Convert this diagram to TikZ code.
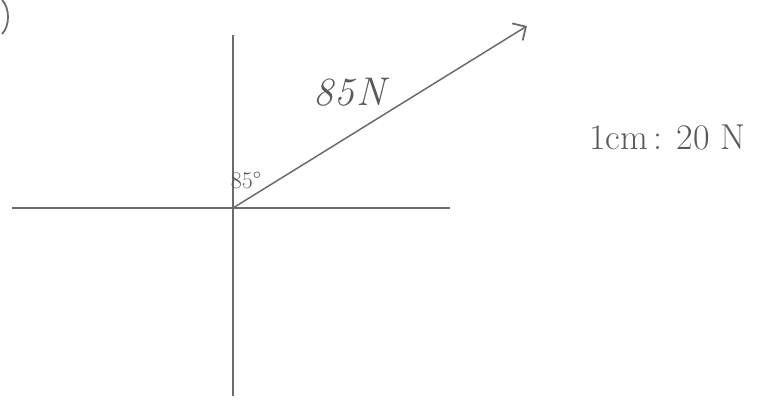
\documentclass[tikz,border=0pt]{standalone}
\usepackage{fontspec}
\setmainfont{Latin Modern Roman}
\usetikzlibrary{arrows.meta}
\definecolor{pencil}{gray}{0.42}
\definecolor{ink}{gray}{0.35}
\begin{document}
\begin{tikzpicture}[x=1pt,y=-1pt,
  axis/.style={draw=pencil,line width=1.1pt},
  vec/.style={draw=pencil,line width=1.5pt,-{Straight Barb[length=10pt,width=20pt,line width=1.8pt]}},
  lbl/.style={text=ink,inner sep=0pt}]
\useasboundingbox (0,0) rectangle (767,400);
\coordinate (O) at (233,208);
\coordinate (top) at (233,35);
\coordinate (bot) at (233,396);
\coordinate (left) at (12,208);
\coordinate (right) at (450,208);
\coordinate (tip) at (527,26);
\draw[axis] (top) -- (bot);
\draw[axis] (left) -- (right);
\draw[vec] (O) -- (tip);
\draw[draw=pencil,line width=1.8pt] (2,0) .. controls (10,8) and (10,26) .. (2,34);
\node[lbl,font=\fontsize{40}{42}\selectfont\itshape] (force) at (350,92) {8\hspace{1pt}5\hspace{2pt}N};
\node[lbl,font=\fontsize{24}{26}\selectfont] (ang) at (246,180) {85\textdegree};
\node[lbl,font=\fontsize{36}{40}\selectfont] (scale) at (667,137) {1cm\hspace{6pt}:\hspace{14pt}20\hspace{10pt}N};
\end{tikzpicture}
\end{document}
